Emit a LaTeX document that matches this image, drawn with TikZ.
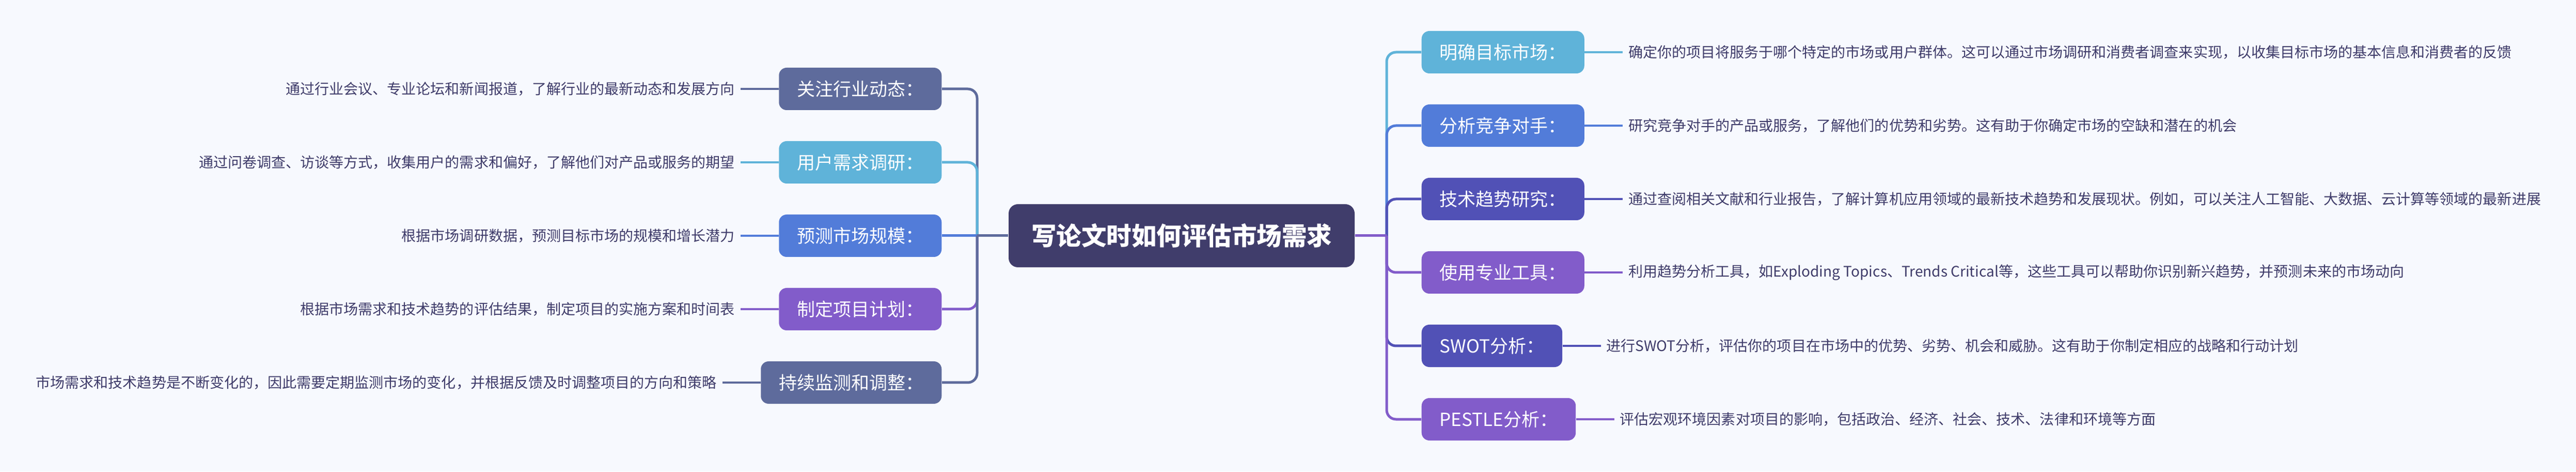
\documentclass[tikz,border=0pt]{standalone}
\usepackage{fontspec}
\setmainfont{Noto Sans CJK SC}
\usepackage{tikz}
\usetikzlibrary{positioning}
\definecolor{paper}{HTML}{F7F9FE}
\definecolor{cDark}{HTML}{403D6B}
\definecolor{cInk}{HTML}{3F3C6A}
\definecolor{cSlate}{HTML}{5E6B9C}
\definecolor{cSky}{HTML}{5FB3D9}
\definecolor{cBlue}{HTML}{527CD9}
\definecolor{cIndigo}{HTML}{5151B6}
\definecolor{cPurple}{HTML}{825CCA}

\begin{document}
\begin{tikzpicture}[
    root/.style={rectangle, rounded corners=0.18cm, fill=cDark, text=white, minimum width=6.7cm, minimum height=1.22cm, font=\fontsize{13.8}{16}\selectfont\bfseries},
    topic/.style={rectangle, rounded corners=0.15cm, text=white, inner xsep=0.35cm, minimum height=0.82cm, font=\fontsize{9.96}{12}\selectfont},
    note/.style={inner xsep=0.1cm, inner ysep=0pt, text=cInk, font=\fontsize{7.98}{10}\selectfont},
    branch/.style={line width=0.05cm, rounded corners=0.18cm},
    twig/.style={line width=0.045cm}
  ]
            \fill[paper] (0, 0) rectangle (49.88, 9.12);

            \node[root] at (22.88, 4.56)   (root) {写论文时如何评估市场需求};

            % left side
            \node[topic, fill=cSlate, anchor=east] at (18.24, 7.40)   (l1) {关注行业动态：};
            \node[topic, fill=cSky, anchor=east] at (18.24, 5.98)   (l2) {用户需求调研：};
            \node[topic, fill=cBlue, anchor=east] at (18.24, 4.56)   (l3) {预测市场规模：};
            \node[topic, fill=cPurple, anchor=east] at (18.24, 3.14)   (l4) {制定项目计划：};
            \node[topic, fill=cSlate, anchor=east] at (18.24, 1.72)   (l5) {持续监测和调整：};

            \node[note, left=0.74 of l1]   (dl1) {通过行业会议、专业论坛和新闻报道，了解行业的最新动态和发展方向};
            \node[note, left=0.74 of l2]   (dl2) {通过问卷调查、访谈等方式，收集用户的需求和偏好，了解他们对产品或服务的期望};
            \node[note, left=0.74 of l3]   (dl3) {根据市场调研数据，预测目标市场的规模和增长潜力};
            \node[note, left=0.74 of l4]   (dl4) {根据市场需求和技术趋势的评估结果，制定项目的实施方案和时间表};
            \node[note, left=0.74 of l5]   (dl5) {市场需求和技术趋势是不断变化的，因此需要定期监测市场的变化，并根据反馈及时调整项目的方向和策略};

            % right side
            \node[topic, fill=cSky, anchor=west] at (27.52, 8.11)   (r1) {明确目标市场：};
            \node[topic, fill=cBlue, anchor=west] at (27.52, 6.69)   (r2) {分析竞争对手：};
            \node[topic, fill=cIndigo, anchor=west] at (27.52, 5.27)   (r3) {技术趋势研究：};
            \node[topic, fill=cPurple, anchor=west] at (27.52, 3.85)   (r4) {使用专业工具：};
            \node[topic, fill=cIndigo, anchor=west] at (27.52, 2.43)   (r5) {SWOT分析：};
            \node[topic, fill=cPurple, anchor=west] at (27.52, 1.01)   (r6) {PESTLE分析：};

            \node[note, right=0.74 of r1]   (dr1) {确定你的项目将服务于哪个特定的市场或用户群体。这可以通过市场调研和消费者调查来实现，以收集目标市场的基本信息和消费者的反馈};
            \node[note, right=0.74 of r2]   (dr2) {研究竞争对手的产品或服务，了解他们的优势和劣势。这有助于你确定市场的空缺和潜在的机会};
            \node[note, right=0.74 of r3]   (dr3) {通过查阅相关文献和行业报告，了解计算机应用领域的最新技术趋势和发展现状。例如，可以关注人工智能、大数据、云计算等领域的最新进展};
            \node[note, right=0.74 of r4]   (dr4) {利用趋势分析工具，如Exploding Topics、Trends Critical等，这些工具可以帮助你识别新兴趋势，并预测未来的市场动向};
            \node[note, right=0.74 of r5]   (dr5) {进行SWOT分析，评估你的项目在市场中的优势、劣势、机会和威胁。这有助于你制定相应的战略和行动计划};
            \node[note, right=0.74 of r6]   (dr6) {评估宏观环境因素对项目的影响，包括政治、经济、社会、技术、法律和环境等方面};

            \coordinate (jl) at (18.92, 4.56);
            \coordinate (jr) at (26.85, 4.56);

            \draw[branch, cSlate] (jl) |- (l1.east);
            \draw[branch, cSky] (jl) |- (l2.east);
            \draw[branch, cBlue] (jl) -- (l3.east);
            \draw[branch, cPurple] (jl) |- (l4.east);
            \draw[branch, cSlate] (jl) |- (l5.east);
            \draw[branch, cSlate] (root.west) -- (jl);

            \draw[branch, cSky] (jr) |- (r1.west);
            \draw[branch, cBlue] (jr) |- (r2.west);
            \draw[branch, cIndigo] (jr) |- (r3.west);
            \draw[branch, cPurple] (jr) |- (r4.west);
            \draw[branch, cIndigo] (jr) |- (r5.west);
            \draw[branch, cPurple] (jr) |- (r6.west);
            \draw[branch, cPurple] (root.east) -- (jr);

            \draw[twig, cSlate] (l1) -- (dl1);
            \draw[twig, cSky] (l2) -- (dl2);
            \draw[twig, cBlue] (l3) -- (dl3);
            \draw[twig, cPurple] (l4) -- (dl4);
            \draw[twig, cSlate] (l5) -- (dl5);
            \draw[twig, cSky] (r1) -- (dr1);
            \draw[twig, cBlue] (r2) -- (dr2);
            \draw[twig, cIndigo] (r3) -- (dr3);
            \draw[twig, cPurple] (r4) -- (dr4);
            \draw[twig, cIndigo] (r5) -- (dr5);
            \draw[twig, cPurple] (r6) -- (dr6);
        \end{tikzpicture}
\end{document}
